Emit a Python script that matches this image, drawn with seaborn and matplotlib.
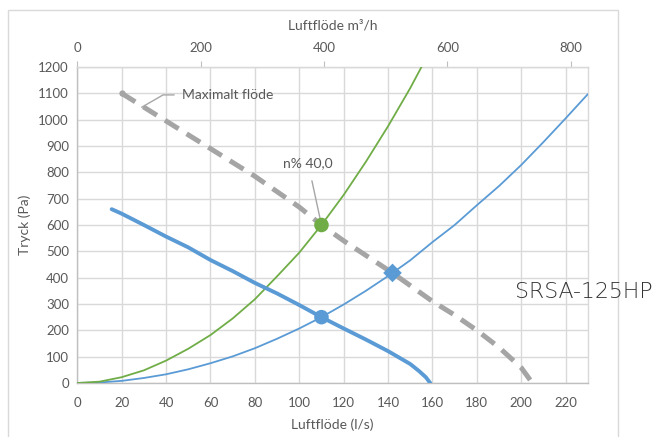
import numpy as np
import pandas as pd
import seaborn as sns
import matplotlib.pyplot as plt
from matplotlib.patches import Rectangle

# Fan curve (thick blue), l/s -> Pa
fan_q = [15.5, 20, 30, 40, 50, 60, 70, 80, 90, 100, 110, 120, 130, 140, 150, 154, 157, 159]
fan_p = [660, 643, 600, 556, 515, 467, 425, 380, 340, 296, 250, 207, 165, 121, 72, 45, 22, 0]

# System curve (thin blue)
sys_q = [0, 10, 20, 30, 40, 50, 60, 70, 80, 90, 100, 110, 120, 130, 140, 150, 160, 170, 180, 190, 200, 210, 220, 230]
sys_p = [0, 2, 8, 19, 33, 52, 75, 101, 132, 168, 207, 250, 298, 350, 406, 466, 535, 600, 675, 748, 828, 915, 1005, 1097]

# System curve at 40 % (green)
green_q = [0, 10, 20, 30, 40, 50, 60, 70, 80, 90, 100, 110, 120, 130, 140, 150, 156]
green_p = [0, 5, 22, 48, 85, 130, 182, 245, 318, 405, 495, 600, 714, 840, 975, 1120, 1215]

# Maximalt flöde (gray dashed)
max_q = [20, 40, 60, 80, 100, 110, 120, 142, 160, 170, 180, 190, 200, 205]
max_p = [1100, 995, 890, 785, 668, 600, 540, 418, 310, 258, 200, 135, 58, 0]

# operating points
pt_green = (110, 600)
pt_blue = (110, 250)
pt_diamond = (142, 418)

x_ticks = list(range(0, 221, 20))
y_ticks = list(range(0, 1201, 100))
top_ticks = [0, 200, 400, 600, 800]

blue = "#5B9BD5"
green = "#70AD47"
gray = "#A5A5A5"
txt = "#595959"
grid = "#D9D9D9"

sns.set_style("white")
plt.rcParams['font.family'] = ['Lato', 'DejaVu Sans']

fig = plt.figure(figsize=(6.69, 4.37), dpi=100)
ax = fig.add_axes([0.1155, 0.1236, 0.7632, 0.7231])

sns.lineplot(x=sys_q, y=sys_p, ax=ax, color=blue, lw=1.3, sort=False, zorder=3)
sns.lineplot(x=green_q, y=green_p, ax=ax, color=green, lw=1.3, sort=False, zorder=3)
sns.lineplot(x=fan_q, y=fan_p, ax=ax, color=blue, lw=2.8, sort=False, zorder=3)
sns.lineplot(x=max_q, y=max_p, ax=ax, color=gray, lw=3.6, sort=False, zorder=3,
             dashes=False, linestyle=(0, (3.2, 1.9)))
ax.plot(max_q[0], max_p[0], 'o', color=gray, ms=3.5, zorder=4)

sns.scatterplot(x=[pt_green[0]], y=[pt_green[1]], ax=ax, color=green, s=110, marker='o', edgecolor='none', zorder=5)
sns.scatterplot(x=[pt_blue[0]], y=[pt_blue[1]], ax=ax, color=blue, s=110, marker='o', edgecolor='none', zorder=5)
sns.scatterplot(x=[pt_diamond[0]], y=[pt_diamond[1]], ax=ax, color=blue, s=90, marker='D', edgecolor='none', zorder=5)

ax.set_xlim(0, 230)
ax.set_ylim(0, 1200)
ax.set_xticks(x_ticks)
ax.set_yticks(y_ticks)
ax.grid(True, color=grid, lw=1.0, zorder=0)
ax.set_axisbelow(True)
for s in ax.spines.values():
    s.set_color(grid)
    s.set_linewidth(1.0)
ax.spines['left'].set_color('#BFBFBF')
ax.spines['bottom'].set_color('#BFBFBF')
ax.tick_params(axis='both', length=0, labelcolor=txt, labelsize=9.5)
ax.tick_params(axis='x', pad=10)
ax.tick_params(axis='y', pad=6)
ax.set_xlabel("Luftflöde (l/s)", color=txt, fontsize=10, labelpad=7)
ax.set_ylabel("Tryck (Pa)", color=txt, fontsize=10, labelpad=5)

sec = ax.secondary_xaxis('top', functions=(lambda q: q * 3.6, lambda m: m / 3.6))
sec.set_xticks(top_ticks)
sec.tick_params(direction='out', length=4, color='#BFBFBF', labelcolor=txt, labelsize=9.5, pad=5)
sec.spines['top'].set_color(grid)
sec.set_xlabel("Luftflöde m³/h", color=txt, fontsize=10, labelpad=9)

ax.annotate("Maximalt flöde", xy=(29, 1047), xytext=(47, 1094), color=txt, fontsize=10,
            ha='left', va='center',
            arrowprops=dict(arrowstyle='-', color='#A6A6A6', lw=1.0, shrinkA=3, shrinkB=0,
                            connectionstyle='angle,angleA=0,angleB=30,rad=0'))
ax.annotate("n% 40,0", xy=pt_green, xytext=(104, 834), color=txt, fontsize=10,
            ha='center', va='center',
            arrowprops=dict(arrowstyle='-', color='#A6A6A6', lw=1.0, shrinkA=6, shrinkB=0))

fig.text(515 / 669, 1 - 292 / 437, "SRSA-125HP", fontsize=15.8, color='#333333',
         family=['DejaVu Sans'], fontweight='light', ha='left', va='center')

frame = Rectangle((8 / 669, -0.1), 610 / 669, 1.1 - 10 / 437, transform=fig.transFigure,
                  fill=False, edgecolor=grid, lw=1.0, clip_on=False)
fig.patches.append(frame)

fig.savefig("out.png", dpi=100)
